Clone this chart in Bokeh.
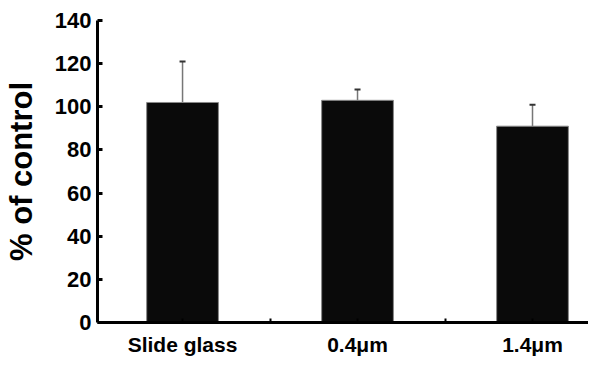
from bokeh.plotting import figure
from bokeh.models import ColumnDataSource, FixedTicker, Range1d, Whisker, TeeHead
from bokeh.embed import file_html
from bokeh.resources import INLINE

# data
categories = ["Slide glass", "0.4μm", "1.4μm"]
values = [102, 103, 91]
errors = [19, 5, 10]
y_ticks = [0, 20, 40, 60, 80, 100, 120, 140]

xs = [i + 1 for i in range(len(categories))]
src = ColumnDataSource(dict(
    x=xs, top=values,
    upper=[v + e for v, e in zip(values, errors)],
))

p = figure(width=588, height=358, output_backend="svg", toolbar_location=None,
           x_range=Range1d(0.514, 3.32), y_range=Range1d(0, 140),
           min_border_left=97, min_border_top=20, min_border_bottom=36, min_border_right=0)
p.outline_line_color = None
p.xgrid.grid_line_color = None
p.ygrid.grid_line_color = None
p.background_fill_color = "white"

p.vbar(x="x", top="top", width=0.41, bottom=0, source=src,
       fill_color="#0a0a0a", line_color="#888888", line_width=1)

w = Whisker(base="x", upper="upper", lower="top", source=src,
            line_color="#777777", line_width=1.5,
            upper_head=TeeHead(size=6, line_color="#333333", line_width=2),
            lower_head=None)
p.add_layout(w)

# y axis
ya = p.yaxis[0]
ya.ticker = FixedTicker(ticks=y_ticks)
ya.axis_line_width = 3
ya.axis_line_color = "black"
ya.major_tick_in = 5
ya.major_tick_out = 0
ya.major_tick_line_width = 3
ya.minor_tick_line_color = None
ya.major_label_standoff = 6
ya.major_label_text_font = "Liberation Sans"
ya.major_label_text_font_style = "bold"
ya.major_label_text_font_size = "22px"
ya.major_label_text_color = "black"
ya.axis_label = "% of control"
ya.axis_label_text_font = "Liberation Sans"
ya.axis_label_text_font_style = "bold"
ya.axis_label_text_font_size = "31px"
ya.axis_label_text_color = "black"
ya.axis_label_standoff = 13

# x axis
xa = p.xaxis[0]
xa.ticker = FixedTicker(ticks=[1, 1.5, 2, 2.5, 3])
overrides = {x: c for x, c in zip(xs, categories)}
overrides.update({1.5: "", 2.5: ""})
xa.major_label_overrides = overrides
xa.axis_line_width = 3
xa.axis_line_color = "black"
xa.major_tick_in = 4
xa.major_tick_out = 0
xa.major_tick_line_width = 2
xa.minor_tick_line_color = None
xa.major_label_standoff = 10
xa.major_label_text_font = "Liberation Sans"
xa.major_label_text_font_style = "bold"
xa.major_label_text_font_size = "21px"
xa.major_label_text_color = "black"

open("out.html", "w").write(file_html(p, INLINE))
